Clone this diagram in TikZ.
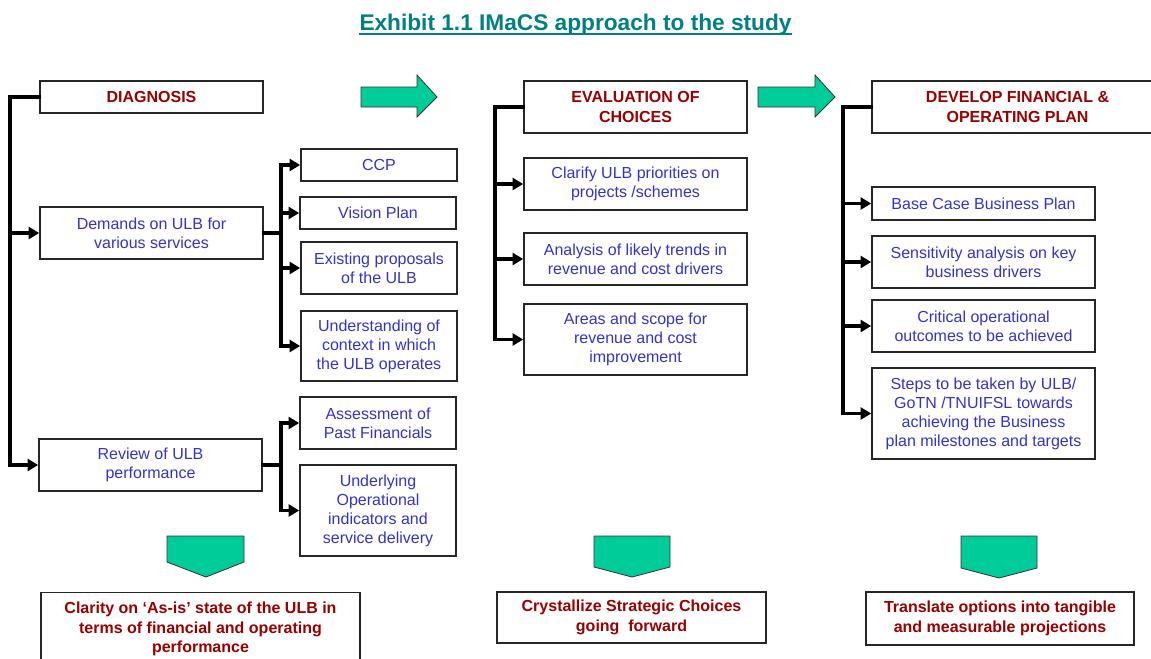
\documentclass[tikz,border=0pt]{standalone}
\usepackage{fontspec}
\setmainfont{Liberation Sans}
\usepackage{tikz}
\usetikzlibrary{arrows.meta}
\usetikzlibrary{calc}
\definecolor{stagered}{RGB}{153,0,0}
\definecolor{itemblue}{RGB}{51,51,204}
\definecolor{shiftgreen}{RGB}{0,204,153}
\definecolor{titleteal}{RGB}{0,128,128}
\tikzset{
  box/.style={draw=black!85,line width=1.2pt,fill=white,rectangle,align=center,
    inner sep=1pt,font=\fontsize{12}{14.3}\selectfont},
  stagebox/.style={box,text=stagered,font=\bfseries\fontsize{12}{14.6}\selectfont,minimum width=167.25pt},
  itembox/.style={box,text=itemblue},
  wide/.style={minimum width=167.25pt},
  narrow/.style={minimum width=117pt},
  link/.style={line width=2.6pt,line cap=rect},
  feed/.style={link,-{Triangle[length=8pt,width=9pt]}},
  stagearrow/.style={fill=shiftgreen,draw=black!80,line width=0.6pt,line join=miter}
}
\begin{document}
\begin{tikzpicture}[x=0.75pt,y=-0.75pt]
      \clip (0,0) rectangle (1151,658);
      \node (title) at (575.5,30) [anchor=base,inner sep=0pt,text=titleteal,font=\bfseries\fontsize{17}{20}\selectfont] {Exhibit 1.1 IMaCS approach to the study};
      \draw[titleteal,line width=1.5pt] ([yshift=-3pt]title.base west) -- ([yshift=-3pt]title.base east);

      % diagnosis
      \node (diag) at (151.5,97) [stagebox,minimum height=24pt] {DIAGNOSIS};
      \node (demand) at (151.5,233) [itembox,wide,minimum height=39pt] {Demands on ULB for\\various services};
      \node (review) at (150.5,465) [itembox,wide,minimum height=39pt] {Review of ULB\\performance};
      \node (ccp) at (379,165) [itembox,narrow,minimum height=24pt] {CCP};
      \node (vision) at (378,213) [itembox,narrow,minimum height=24pt] {Vision Plan};
      \node (exist) at (379,268) [itembox,narrow,minimum height=39pt] {Existing proposals\\of the ULB};
      \node (underst) at (379,346) [itembox,narrow,minimum height=52.5pt] {Understanding of\\context in which\\the ULB operates};
      \node (assess) at (378,423) [itembox,narrow,minimum height=39pt] {Assessment of\\Past Financials};
      \node (underly) at (378,510.5) [itembox,narrow,minimum height=68.25pt] {Underlying\\Operational\\indicators and\\service delivery};
      \coordinate (lt) at (10,97);
      \coordinate (db) at (281,233);
      \coordinate (rb) at (281,465);
      \draw[feed] (diag.west) -- (lt) |- (review.west);
      \draw[feed] (lt) |- (demand.west);
      \draw[link] (demand.east) -- (db);
      \draw[feed] (db) |- (ccp.west);
      \draw[feed] (db) |- (vision.west);
      \draw[feed] (db) |- (exist.west);
      \draw[feed] (db) |- (underst.west);
      \draw[link] (review.east) -- (rb);
      \draw[feed] (rb) |- (assess.west);
      \draw[feed] (rb) |- (underly.west);

      % evaluation
      \node (eval) at (635.5,107) [stagebox,minimum height=39pt] {EVALUATION OF\\CHOICES};
      \node (clarify) at (635.5,184) [itembox,wide,minimum height=39pt] {Clarify ULB priorities on\\projects /schemes};
      \node (trends) at (635.5,259) [itembox,wide,minimum height=39pt] {Analysis of likely trends in\\revenue and cost drivers};
      \node (areas) at (635.5,339.5) [itembox,wide,minimum height=53.25pt] {Areas and scope for\\revenue and cost\\improvement};
      \coordinate (mt) at (495,107);
      \draw[link] (eval.west) -- (mt);
      \draw[feed] (mt) |- (clarify.west);
      \draw[feed] (mt) |- (trends.west);
      \draw[feed] (mt) |- (areas.west);

      % plan
      \node (plan) at (1017.5,107) [stagebox,minimum width=218.25pt,minimum height=39pt] {DEVELOP FINANCIAL \&\\OPERATING PLAN};
      \node (base) at (983.5,203.5) [itembox,wide,minimum height=24.75pt] {Base Case Business Plan};
      \node (sens) at (983.5,262) [itembox,wide,minimum height=39pt] {Sensitivity analysis on key\\business drivers};
      \node (crit) at (983.5,326) [itembox,wide,minimum height=39pt] {Critical operational\\outcomes to be achieved};
      \node (steps) at (983.5,413.5) [itembox,wide,minimum height=68.25pt] {Steps to be taken by ULB/\\GoTN /TNUIFSL towards\\achieving the Business\\plan milestones and targets};
      \coordinate (rt) at (843,107);
      \draw[link] (plan.west) -- (rt);
      \draw[feed] (rt) |- (base.west);
      \draw[feed] (rt) |- (sens.west);
      \draw[feed] (rt) |- (crit.west);
      \draw[feed] (rt) |- (steps.west);

      % stage arrows
      \draw[stagearrow] (361,87) -- (417,87) -- (417,75) -- (437,97) -- (417,117) -- (417,107) -- (361,107) -- cycle;
      \draw[stagearrow] (758,87) -- (815,87) -- (815,75) -- (835,97) -- (815,117) -- (815,107) -- (758,107) -- cycle;
      \draw[stagearrow] (167,536) -- (244,536) -- (244,562) -- (206,577) -- (167,562) -- cycle;
      \draw[stagearrow] (594,536) -- (670,536) -- (670,567) -- (632,577) -- (594,567) -- cycle;
      \draw[stagearrow] (961,536) -- (1037,536) -- (1037,568) -- (999,578) -- (961,568) -- cycle;

      % outcomes
      \node (out1) at (200.5,629) [stagebox,minimum width=239.25pt,minimum height=55pt] {Clarity on `As-is' state of the ULB in\\terms of financial and operating\\performance};
      \node (out2) at (631.5,617.5) [stagebox,minimum width=201.75pt,minimum height=38.25pt] {Crystallize Strategic Choices\\going\ \ forward};
      \node (out3) at (1000,618.5) [stagebox,minimum width=201pt,minimum height=39.75pt] {Translate options into tangible\\and measurable projections};
\end{tikzpicture}
\end{document}
